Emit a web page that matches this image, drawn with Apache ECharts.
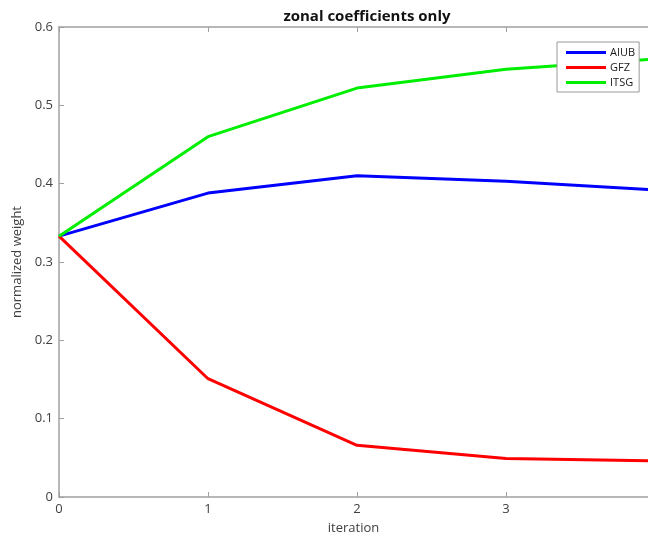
<!DOCTYPE html>
<html>
<head>
<meta charset="utf-8">
<script src="https://cdn.jsdelivr.net/npm/echarts@6/dist/echarts.min.js"></script>
<style>
  html, body { margin: 0; padding: 0; background: #fff; }
  #chart { width: 648px; height: 536px; }
</style>
</head>
<body>
<div id="chart"></div>
<script>
// Normalized weight per iteration for each processing centre
const iterations = [0, 1, 2, 3, 4];
const aiub = [0.333, 0.388, 0.410, 0.403, 0.392];
const gfz  = [0.333, 0.151, 0.066, 0.049, 0.046];
const itsg = [0.333, 0.460, 0.522, 0.546, 0.559];
const yTicks = [0, 0.1, 0.2, 0.3, 0.4, 0.5, 0.6];
const xTicks = [0, 1, 2, 3];

const pairs = (vals) => iterations.map((x, i) => [x, vals[i]]);
const axisGrey = '#a0a0a0';
const labelGrey = '#404040';
const font = '"Open Sans", "DejaVu Sans", sans-serif';

// visible part of the iteration axis ends just before 4
const xMax = 3.953;

const tickStyle = { show: true, inside: true, length: 5, lineStyle: { color: axisGrey, width: 1 } };
const lineStyleAxis = { show: true, onZero: false, lineStyle: { color: axisGrey, width: 1.5 } };

const chart = echarts.init(document.getElementById('chart'), null, { renderer: 'canvas' });
chart.setOption({
  animation: false,
  backgroundColor: '#fff',
  title: {
    text: 'zonal coefficients only',
    left: 362, top: 4, textAlign: 'center',
    textStyle: { fontFamily: font, fontSize: 15, fontWeight: 'bold', color: '#111' }
  },
  legend: {
    orient: 'vertical',
    left: 557, top: 42,
    icon: 'rect',
    itemWidth: 40, itemHeight: 3, itemGap: 4,
    padding: [5, 4, 4, 9],
    borderColor: '#999', borderWidth: 1,
    backgroundColor: '#fff',
    textStyle: { fontFamily: font, fontSize: 11, color: '#1a1a1a', padding: [0, 0, 0, -1] },
    data: ['AIUB', 'GFZ', 'ITSG']
  },
  grid: { left: 59, top: 27, right: 0, bottom: 39, outerBoundsMode: 'none', containLabel: false, show: false },
  xAxis: [{
    type: 'value', min: 0, max: xMax, interval: 1,
    name: 'iteration', nameLocation: 'middle', nameGap: 25,
    nameTextStyle: { fontFamily: font, fontSize: 13, color: labelGrey },
    axisLine: lineStyleAxis,
    axisTick: tickStyle,
    axisLabel: {
      fontFamily: font, fontSize: 13, color: labelGrey, margin: 6,
      showMaxLabel: false,
      formatter: (v) => xTicks.includes(v) ? String(v) : ''
    },
    splitLine: { show: false }
  }, {
    type: 'value', min: 0, max: xMax, interval: 1, position: 'top',
    axisLine: lineStyleAxis,
    axisTick: tickStyle,
    axisLabel: { show: false },
    splitLine: { show: false }
  }],
  yAxis: [{
    type: 'value', min: 0, max: 0.6, interval: 0.1,
    name: 'normalized weight', nameLocation: 'middle', nameGap: 33,
    nameTextStyle: { fontFamily: font, fontSize: 13, color: labelGrey },
    axisLine: lineStyleAxis,
    axisTick: tickStyle,
    axisLabel: {
      fontFamily: font, fontSize: 13, color: labelGrey, margin: 6,
      formatter: (v) => {
        const t = yTicks.find(k => Math.abs(k - v) < 1e-9);
        return t === undefined ? '' : String(Math.round(t * 10) / 10);
      }
    },
    splitLine: { show: false }
  }],
  series: [
    { name: 'AIUB', type: 'line', data: pairs(aiub), symbol: 'none', clip: true,
      lineStyle: { color: '#0000ff', width: 3 }, itemStyle: { color: '#0000ff' }, z: 3 },
    { name: 'GFZ', type: 'line', data: pairs(gfz), symbol: 'none', clip: true,
      lineStyle: { color: '#ff0000', width: 3 }, itemStyle: { color: '#ff0000' }, z: 3 },
    { name: 'ITSG', type: 'line', data: pairs(itsg), symbol: 'none', clip: true,
      lineStyle: { color: '#00ee00', width: 3 }, itemStyle: { color: '#00ee00' }, z: 3 }
  ]
});
</script>
</body>
</html>
